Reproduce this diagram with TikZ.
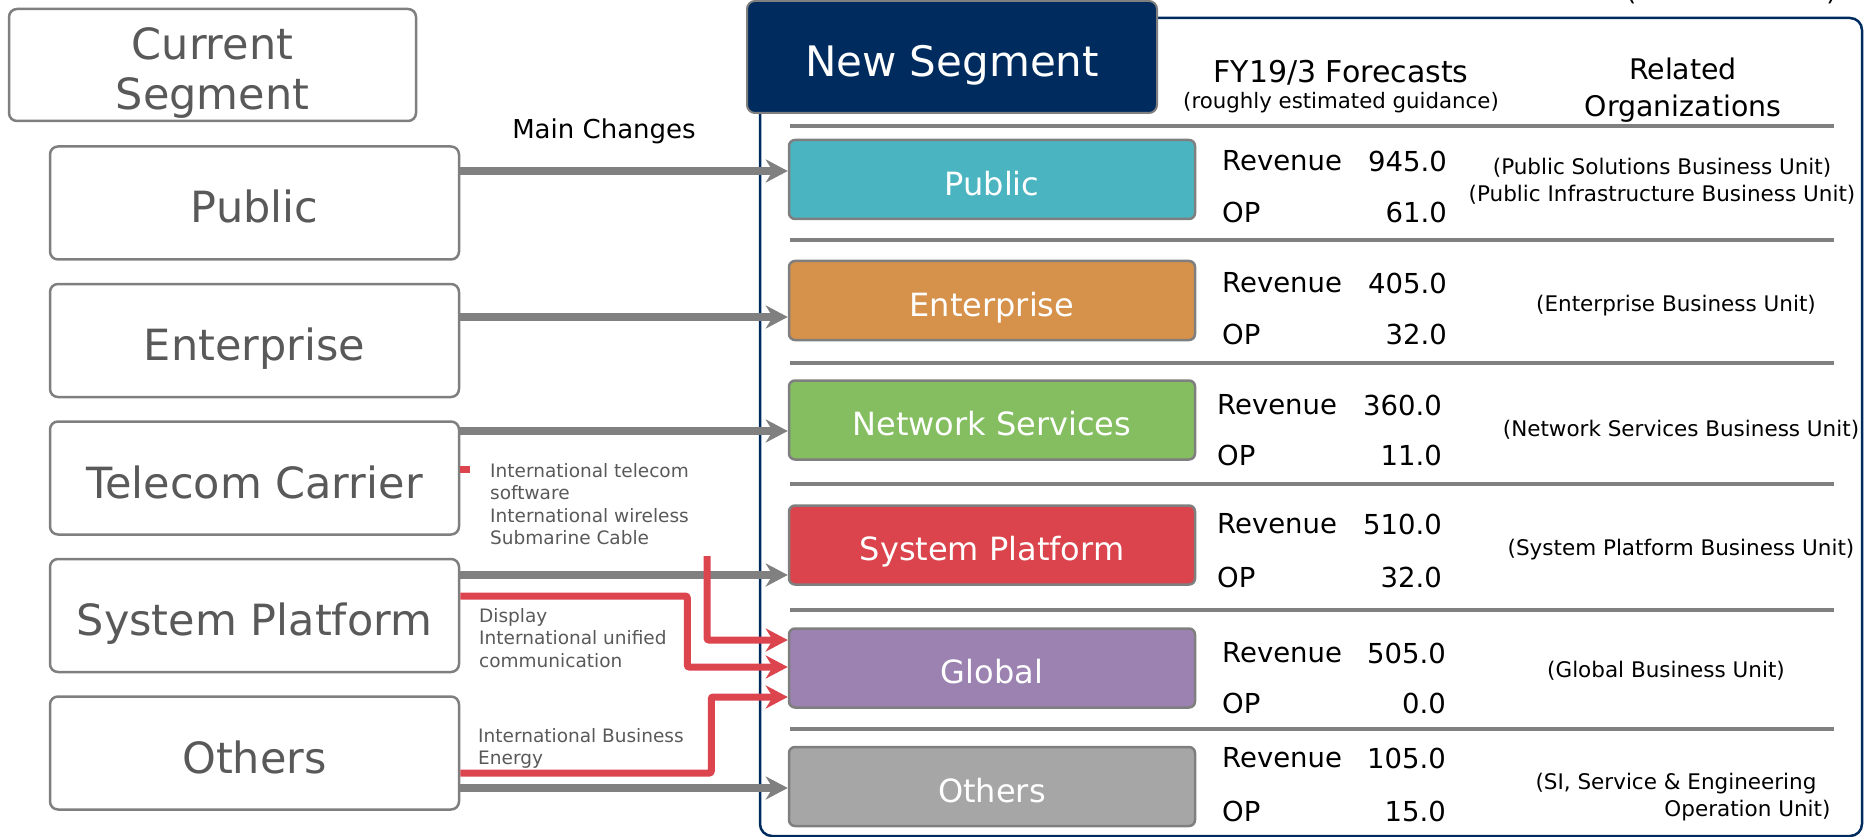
\documentclass[tikz,border=0pt]{standalone}
\usepackage{fontspec}
\setmainfont{DejaVu Sans}
\usetikzlibrary{arrows.meta,positioning,calc}
\definecolor{navyCol}{RGB}{0,43,94}
\definecolor{boxGray}{RGB}{127,127,127}
\definecolor{arrGray}{RGB}{128,128,128}
\definecolor{txtGray}{RGB}{89,89,89}
\definecolor{redCol}{RGB}{220,68,78}
\definecolor{pubCol}{RGB}{75,180,193}
\definecolor{entCol}{RGB}{214,145,75}
\definecolor{netCol}{RGB}{132,190,97}
\definecolor{sysCol}{RGB}{219,68,76}
\definecolor{gloCol}{RGB}{155,130,177}
\definecolor{othCol}{RGB}{166,166,166}
\tikzset{
  oldseg/.style={draw=boxGray,line width=2.5pt,rounded corners=8pt,fill=white,
                 minimum width=409pt,minimum height=113pt,text=txtGray,align=center,
                 inner sep=2pt,text height=42pt,text depth=2pt,
                 font=\fontsize{43}{50}\selectfont},
  newseg/.style={draw=boxGray,line width=2.5pt,rounded corners=6pt,
                 minimum width=406pt,minimum height=79pt,text=white,
                 inner sep=2pt,text height=33pt,text depth=1.6pt,
                 font=\fontsize{32}{38}\selectfont},
  flow/.style={-{Stealth[length=22pt,width=23pt,inset=7pt]},line width=8pt,draw=arrGray},
  move/.style={-{Stealth[length=22pt,width=23pt,inset=7pt]},line width=7pt,draw=redCol,
               rounded corners=2pt},
  note/.style={anchor=north west,inner sep=0pt,align=left,text=txtGray,
               font=\fontsize{18.5}{22.5}\selectfont},
  fig/.style={font=\fontsize{27.5}{33}\selectfont,inner sep=0pt},
  org/.style={font=\fontsize{21.5}{27}\selectfont,align=center},
  rowsep/.style={draw=arrGray,line width=3.5pt},
}

\begin{document}
\begin{tikzpicture}[x=1pt,y=-1pt]
    \useasboundingbox (0,0) rectangle (1864,837);
    % --- frame and headings ---
    \draw[navyCol,line width=2.5pt,rounded corners=12pt] (760,18) rectangle (1862,836);
    \node[anchor=base west,inner sep=0pt,font=\fontsize{26}{30}\selectfont] (unit) at (1626,1) {(\hspace{190pt})};
    \node[draw=boxGray,line width=2pt,fill=navyCol,rounded corners=8pt,minimum width=410pt,
          minimum height=112pt,text=white,inner sep=2pt,text height=41pt,text depth=2pt,
          font=\fontsize{42}{50}\selectfont] (newhd) at (952,57) {New Segment};
    \node[oldseg,minimum width=407pt,minimum height=112pt,text height=92pt,text depth=2pt] (curhd) at (212.5,65) {Current\\Segment};
    \node[font=\fontsize{26}{30}\selectfont] (chg) at (604,131) {Main Changes};
    \node[font=\fontsize{30}{36}\selectfont] (fyhd) at (1341,73) {FY19/3 Forecasts};
    \node[font=\fontsize{21.3}{26}\selectfont] (guide) at (1341,103) {(roughly estimated guidance)};
    \node[align=center,font=\fontsize{28.4}{37}\selectfont] (orghd) at (1683,90) {Related\\Organizations};
    \foreach \y in {126,240,363,484,610,729} \draw[rowsep] (790,\y) -- (1834,\y);
    % --- new segments ---
    \node[newseg,fill=pubCol] (npub) at (992,179.5) {Public};
    \node[newseg,fill=entCol] (nent) at (992,300.5) {Enterprise};
    \node[newseg,fill=netCol] (nnet) at (992,420) {Network Services};
    \node[newseg,fill=sysCol] (nsys) at (992,545) {System Platform};
    \node[newseg,fill=gloCol] (nglo) at (992,668) {Global};
    \node[newseg,fill=othCol] (noth) at (992,786.5) {Others};
    \foreach \id/\ry/\oy/\rv/\op/\lx/\vx in {pub/161/212/945.0/61.0/1222/1447,
        ent/283/334/405.0/32.0/1222/1447, net/405/455/360.0/11.0/1217/1442,
        sys/524/577/510.0/32.0/1217/1442, glo/653/703/505.0/0.0/1222/1446,
        oth/758/811/105.0/15.0/1222/1446} {
      \node[fig,anchor=west] (rl\id) at (\lx,\ry) {Revenue};
      \node[fig,anchor=east] (rv\id) at (\vx,\ry) {\rv};
      \node[fig,anchor=west] (ol\id) at (\lx,\oy) {OP};
      \node[fig,anchor=east] (ov\id) at (\vx,\oy) {\op};
    }
    \node[org] (opub) at (1662,181) {(Public Solutions Business Unit)\\(Public Infrastructure Business Unit)};
    \node[org] (oent) at (1676,306) {(Enterprise Business Unit)};
    \node[org] (onet) at (1681,430) {(Network Services Business Unit)};
    \node[org] (osys) at (1681,550) {(System Platform Business Unit)};
    \node[org] (oglo) at (1666,671) {(Global Business Unit)};
    \node[org,align=right,anchor=east] (ooth) at (1834,797) {(SI, Service \& Engineering\hspace*{14pt}\\Operation Unit)};
    % --- current segments ---
    \node[oldseg] (lpub) at (254.5,203) {Public};
    \node[oldseg] (lent) at (254.5,340.5) {Enterprise};
    \node[oldseg] (ltel) at (254.5,478) {Telecom Carrier};
    \node[oldseg] (lsys) at (254.5,615.5) {System Platform};
    \node[oldseg] (loth) at (254.5,753) {Others};
    \node[note] (tnote) at (490,463) {International telecom\\software\\International wireless\\Submarine Cable};
    \node[note] (dnote) at (479,608) {Display\\International unified\\communication};
    \node[note] (enote) at (478,728) {International Business\\Energy};
    % --- moves ---
    \draw[flow] ([yshift=32pt]lpub.east) -- ([yshift=8.5pt]npub.west);
    \draw[flow] ([yshift=23.5pt]lent.east) -- ([yshift=-16.5pt]nent.west);
    \draw[flow] ([yshift=47pt]ltel.east) -- ([yshift=-11pt]nnet.west);
    \draw[flow] ([yshift=40.5pt]lsys.east) -- ([yshift=-30pt]nsys.west);
    \draw[flow] ([yshift=-35pt]loth.east) -- ([yshift=-1.5pt]noth.west);
    \draw[redCol,line width=7pt] ([yshift=9pt]ltel.east) -- ++(10,0);
    \coordinate (drop) at (707,556);
    \draw[move] (drop) |- ([yshift=28pt]nglo.west);
    \draw[move] ([yshift=19.5pt]lsys.east) -- ++(227,0) |- ([yshift=1pt]nglo.west);
    \draw[move] ([yshift=-20pt]loth.east) -- ++(251,0) |- ([yshift=-29pt]nglo.west);
\end{tikzpicture}
\end{document}
